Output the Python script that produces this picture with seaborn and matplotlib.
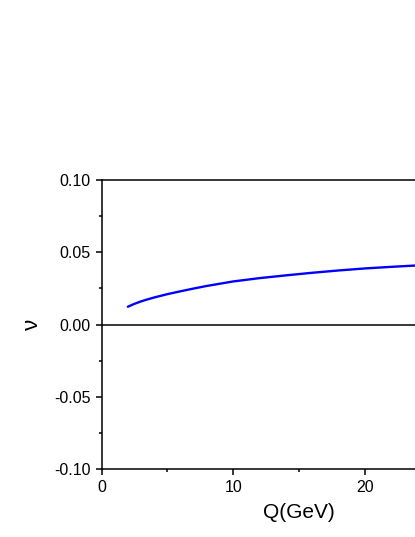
import numpy as np
import pandas as pd
import matplotlib
matplotlib.use("Agg")
import matplotlib.pyplot as plt
import seaborn as sns
from matplotlib.ticker import FixedLocator, MultipleLocator, FormatStrFormatter

q_gev = [2, 2.5, 3, 3.5, 4, 5, 6, 7, 8, 10, 12, 14, 16, 18, 20, 22, 24, 26, 28]
nu = [0.0123, 0.0143, 0.0160, 0.0174, 0.0187, 0.0210, 0.0230, 0.0249, 0.0267,
      0.0298, 0.0321, 0.0340, 0.0358, 0.0374, 0.0388, 0.0399, 0.0409, 0.0418, 0.0426]
x_major = [0, 10, 20]
x_minor = [5, 15, 25]

df = pd.DataFrame({"Q": q_gev, "nu": nu})

sns.set_style("ticks")
plt.rcParams['font.family'] = ['Liberation Sans', 'DejaVu Sans']

fig = plt.figure(figsize=(4.15, 5.37), dpi=100)
ax = fig.add_axes([0.2446, 0.1266, 0.952, 0.5382])

sns.lineplot(data=df, x="Q", y="nu", ax=ax, color="#0000ff", linewidth=1.7)
ax.axhline(0, color="black", linewidth=1.1)

ax.set_xlim(0, 30)
ax.set_ylim(-0.10, 0.10)
ax.xaxis.set_major_locator(FixedLocator(x_major))
ax.xaxis.set_minor_locator(FixedLocator(x_minor))
ax.yaxis.set_major_locator(MultipleLocator(0.05))
ax.yaxis.set_minor_locator(MultipleLocator(0.025))
ax.yaxis.set_major_formatter(FormatStrFormatter("%.2f"))

ax.tick_params(which="major", direction="out", length=4.5, width=1.1, labelsize=11.5, color="black", labelcolor="black")
ax.tick_params(which="minor", direction="out", length=2.5, width=1.1, color="black")
for s in ax.spines.values():
    s.set_linewidth(1.1)
    s.set_color("black")

ax.set_xlabel("Q(GeV)", fontsize=15, labelpad=6, color="black")
ax.set_ylabel("ν", fontsize=16, labelpad=8, color="black")

fig.savefig("out.png", dpi=100)
